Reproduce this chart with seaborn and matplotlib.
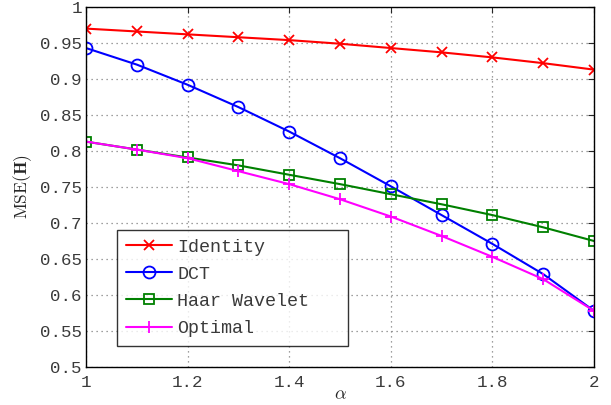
import numpy as np
import pandas as pd
import seaborn as sns
import matplotlib.pyplot as plt

alpha = [1.0, 1.1, 1.2, 1.3, 1.4, 1.5, 1.6, 1.7, 1.8, 1.9, 2.0]
identity = [0.970, 0.966, 0.962, 0.958, 0.954, 0.949, 0.943, 0.937, 0.930, 0.922, 0.913]
dct = [0.943, 0.920, 0.892, 0.861, 0.827, 0.790, 0.751, 0.711, 0.671, 0.629, 0.578]
haar = [0.813, 0.802, 0.791, 0.780, 0.767, 0.754, 0.740, 0.726, 0.711, 0.694, 0.675]
optimal = [0.813, 0.802, 0.790, 0.772, 0.754, 0.733, 0.709, 0.682, 0.653, 0.622, 0.578]

names = ['Identity', 'DCT', 'Haar Wavelet', 'Optimal']
colors = ['#ff0000', '#0000ff', '#008000', '#ff00ff']
markers = ['x', 'o', 's', '+']
msizes = [6.5, 8.6, 6.5, 9]

df = pd.DataFrame({'alpha': alpha * 4,
                   'mse': identity + dct + haar + optimal,
                   'method': [n for n in names for _ in alpha]})

sns.set_style('white')
plt.rcParams['font.family'] = ['Liberation Mono', 'DejaVu Sans Mono']
plt.rcParams['mathtext.fontset'] = 'cm'

fig = plt.figure(figsize=(6.11, 4.05), dpi=100)
ax = fig.add_axes([86/611, 1 - 367/405, (594-86)/611, (367-7)/405])

for n, c, m, s in zip(names, colors, markers, msizes):
    sub = df[df['method'] == n]
    sns.lineplot(data=sub, x='alpha', y='mse', ax=ax, color=c, marker=m,
                 markersize=s, markerfacecolor='none', markeredgecolor=c,
                 markeredgewidth=1.3, linewidth=1.5, label=n)

ax.set_xlim(1, 2)
ax.set_ylim(0.5, 1)
ax.set_xticks(np.arange(1, 2.01, 0.2))
ax.set_xticklabels(['1', '1.2', '1.4', '1.6', '1.8', '2'])
ax.set_yticks(np.arange(0.5, 1.001, 0.05))
ax.set_yticklabels(['0.5', '0.55', '0.6', '0.65', '0.7', '0.75', '0.8', '0.85', '0.9', '0.95', '1'])
ax.tick_params(direction='in', top=True, right=True, labelsize=12.6, length=4,
               width=0.8, labelcolor='#3a3a3a', pad=3)
ax.tick_params(axis='x', pad=6)
ax.grid(True, linestyle=(0, (1, 3)), color='#808080', linewidth=0.9)
for sp in ax.spines.values():
    sp.set_color('black')
    sp.set_linewidth(1.0)

ax.set_xlabel(r'$\alpha$', fontsize=13, labelpad=-3)
ax.set_ylabel(r'$\mathrm{MSE}(\mathbf{H})$', fontsize=12.5, labelpad=4)

leg = ax.legend(loc='lower left', bbox_to_anchor=(0.061, 0.058, 0.455, 0.317),
                mode='expand', fontsize=13.2,
                frameon=True, fancybox=False, edgecolor='black',
                handlelength=2.5, handletextpad=0.3, borderpad=0.5,
                labelspacing=0.55, borderaxespad=0)
leg.get_frame().set_linewidth(1.0)
for t in leg.get_texts():
    t.set_color('#3a3a3a')

fig.savefig('out.png', dpi=100)
